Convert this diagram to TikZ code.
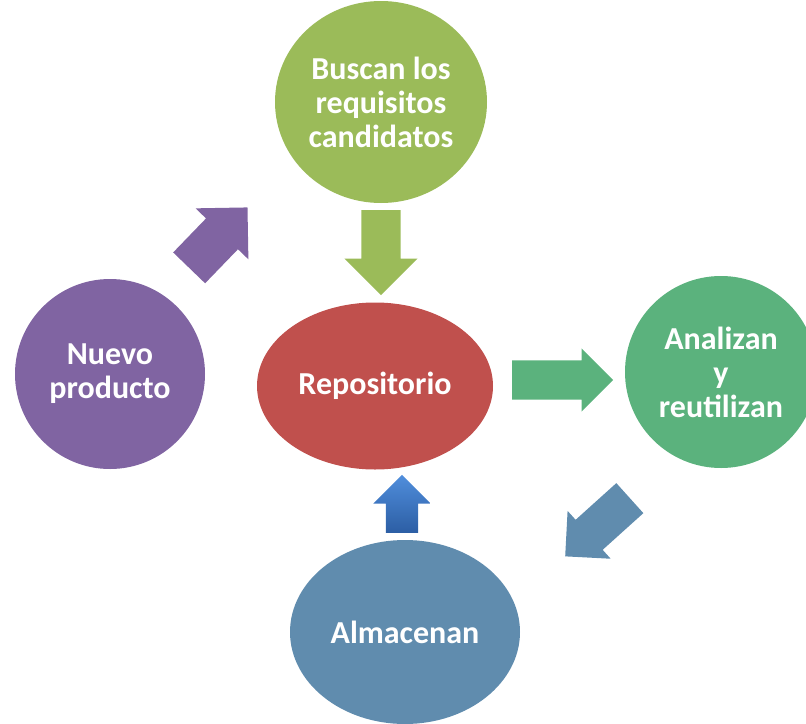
\documentclass[tikz,border=0pt]{standalone}
\usepackage{fontspec}
\setmainfont{Carlito}
\usetikzlibrary{shapes.geometric,shapes.arrows}

\definecolor{verdeLima}{RGB}{155,187,89}
\definecolor{morado}{RGB}{128,100,162}
\definecolor{rojo}{RGB}{192,80,77}
\definecolor{verdeMar}{RGB}{91,178,125}
\definecolor{azulGris}{RGB}{96,140,174}
\definecolor{azulClaro}{RGB}{80,142,220}
\definecolor{azulOscuro}{RGB}{44,94,164}

\begin{document}
\begin{tikzpicture}[x=1pt,y=-1pt,
  burbuja/.style={ellipse,inner sep=-20pt,draw=none,text=white,align=center,
    font=\fontsize{32}{34}\selectfont\bfseries},
  flecha/.style 2 args={single arrow,inner xsep=0pt,inner ysep=#1,draw=none,
    single arrow head extend=#2,anchor=tail}]
\useasboundingbox (0,0) rectangle (806,723);
\clip (0,0) rectangle (806,723);

% los circulos
\node[burbuja,fill=verdeLima,minimum width=212,minimum height=202] (buscan) at (381,102) {Buscan los\\requisitos\\candidatos};
\node[burbuja,fill=morado,minimum size=190] (nuevo) at (110,374) {Nuevo\\producto};
\node[burbuja,fill=rojo,minimum width=236,minimum height=167] (repo) at (375,386) {Repositorio};
\node[burbuja,fill=verdeMar,minimum size=192] (analizan) at (721,372) {Analizan\\y\\reutilizan};
\node[burbuja,fill=azulGris,minimum width=230,minimum height=184] (almacenan) at (405,632) {Almacenan};

% las flechas
\node[flecha={22}{14.5},fill=morado,rotate=46,minimum height=84] (fNuevo) at (189,268) {};
\node[flecha={19.5}{17},fill=verdeLima,rotate=-90,minimum height=85] (fBuscan) at (381,210) {};
\node[flecha={19.5}{12},fill=verdeMar,minimum height=101] (fRepo) at (512,380) {};
\node[flecha={20}{12},fill=azulGris,rotate=222,minimum height=87] (fAnalizan) at (630,498) {};
\node[flecha={16}{12.5},rotate=90,top color=azulClaro,bottom color=azulOscuro,minimum height=58] (fAlmacenan) at (402,533) {};
\end{tikzpicture}
\end{document}
